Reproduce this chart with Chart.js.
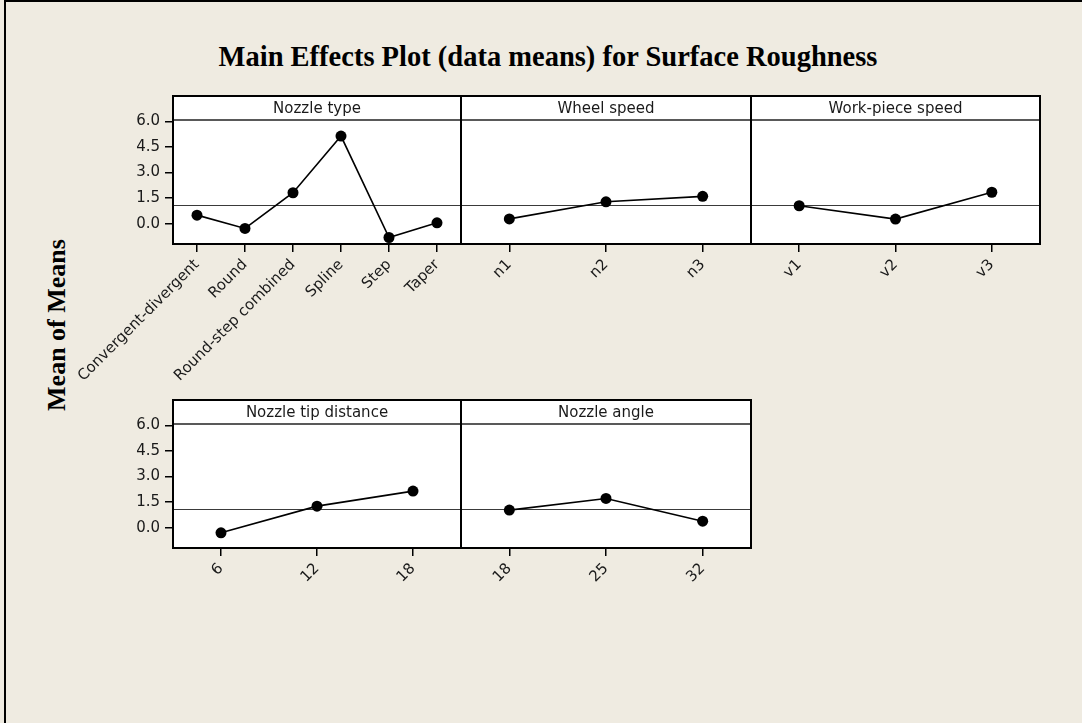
<!DOCTYPE html>
<html>
<head>
<meta charset="utf-8">
<script src="https://cdn.jsdelivr.net/npm/chart.js@4.4.1/dist/chart.umd.min.js"></script>
<style>
  html, body { margin: 0; padding: 0; background: #efebe1; }
  #page { position: relative; width: 1082px; height: 723px; overflow: hidden; background: #efebe1; }
  #frame { position: absolute; left: 4px; top: 0; width: 1100px; height: 760px;
           border-top: 2px solid #000; border-left: 2px solid #000; }
  #title { position: absolute; left: 48px; width: 1000px; top: 41px; text-align: center;
           font: bold 28.5px "Liberation Serif", serif; color: #000; white-space: nowrap; }
  #ylab { position: absolute; left: 57px; top: 325px; transform: translate(-50%, -50%) rotate(-90deg);
          white-space: nowrap; font: bold 26px "Liberation Serif", serif; color: #000; }
  canvas { position: absolute; }
</style>
</head>
<body>
<div id="page">
  <div id="frame"></div>
  <div id="title">Main Effects Plot (data means) for Surface Roughness</div>
  <div id="ylab">Mean of Means</div>
</div>
<script>
// Factor levels and their mean surface roughness
const nozzleTypes = ['Convergent-divergent', 'Round', 'Round-step combined', 'Spline', 'Step', 'Taper'];
const nozzleTypeMeans = [0.51, -0.27, 1.82, 5.14, -0.80, 0.06];

const wheelSpeeds = ['n1', 'n2', 'n3'];
const wheelSpeedMeans = [0.29, 1.29, 1.61];

const workSpeeds = ['v1', 'v2', 'v3'];
const workSpeedMeans = [1.06, 0.28, 1.85];

const tipDistances = ['6', '12', '18'];
const tipDistanceMeans = [-0.29, 1.27, 2.15];

const nozzleAngles = ['18', '25', '32'];
const nozzleAngleMeans = [1.04, 1.72, 0.39];

// Overall mean drawn as the reference line in every panel
const grandMean = 1.08;

// Shared y axis
const yTicks = [0, 1.5, 3, 4.5, 6];
const yMin = -1.18;
const yMax = 6.08;

const FONT = 'DejaVu Sans';
const HEADER_H = 24;
const PLOT_H = 124;
const XAXIS_H = 190;
const PAD = 2;

// Header box, frame and reference line for each panel
const panelPlugin = {
  id: 'panelFrame',
  beforeDraw(chart, args, opts) {
    const { ctx, chartArea: a } = chart;
    ctx.save();
    ctx.fillStyle = '#ffffff';
    ctx.fillRect(a.left, a.top - HEADER_H, a.right - a.left, a.bottom - a.top + HEADER_H);
    ctx.restore();
  },
  beforeDatasetsDraw(chart, args, opts) {
    const { ctx, chartArea: a, scales } = chart;
    const yy = Math.round(scales.y.getPixelForValue(opts.reference)) + 0.5;
    ctx.save();
    ctx.strokeStyle = '#3a3a3a';
    ctx.lineWidth = 1;
    ctx.beginPath();
    ctx.moveTo(a.left, yy);
    ctx.lineTo(a.right, yy);
    ctx.stroke();
    ctx.restore();
  },
  afterDraw(chart, args, opts) {
    const { ctx, chartArea: a } = chart;
    const top = a.top - HEADER_H;
    ctx.save();
    // header separator
    ctx.strokeStyle = '#222';
    ctx.lineWidth = 1.5;
    ctx.beginPath();
    ctx.moveTo(a.left, a.top);
    ctx.lineTo(a.right, a.top);
    ctx.stroke();
    // outer frame
    ctx.strokeStyle = '#000';
    ctx.lineWidth = 2;
    ctx.strokeRect(a.left, top, a.right - a.left, a.bottom - top);
    // header text
    ctx.fillStyle = '#1a1a1a';
    ctx.font = '15px "' + FONT + '"';
    ctx.textAlign = 'center';
    ctx.textBaseline = 'middle';
    ctx.fillText(opts.title, (a.left + a.right) / 2, top + HEADER_H / 2 + 1);
    ctx.restore();
  }
};

function makePanel(cfg) {
  const canvasLeft = cfg.showY ? 0 : cfg.left - PAD;
  const canvasTop = cfg.headerTop - PAD;
  const width = cfg.right + PAD - canvasLeft;
  const height = PAD + HEADER_H + PLOT_H + XAXIS_H;

  const canvas = document.createElement('canvas');
  canvas.width = width;
  canvas.height = height;
  canvas.style.left = canvasLeft + 'px';
  canvas.style.top = canvasTop + 'px';
  canvas.style.width = width + 'px';
  canvas.style.height = height + 'px';
  document.getElementById('page').appendChild(canvas);

  new Chart(canvas, {
    type: 'line',
    data: {
      labels: cfg.labels,
      datasets: [{
        data: cfg.values,
        borderColor: '#000',
        borderWidth: 1.6,
        pointRadius: 5.5,
        pointBackgroundColor: '#000',
        pointBorderColor: '#000',
        pointBorderWidth: 0,
        tension: 0,
        clip: false
      }]
    },
    options: {
      responsive: false,
      animation: false,
      devicePixelRatio: 1,
      layout: {
        autoPadding: false,
        padding: { top: PAD + HEADER_H, left: cfg.showY ? 0 : PAD, right: PAD, bottom: 0 }
      },
      plugins: {
        legend: { display: false },
        tooltip: { enabled: false },
        panelFrame: { title: cfg.title, reference: grandMean }
      },
      scales: {
        x: {
          type: 'category',
          offset: true,
          border: { display: false },
          grid: { display: true, drawOnChartArea: false, drawTicks: true, tickLength: 8, color: '#000', lineWidth: 1.5 },
          ticks: {
            autoSkip: false, minRotation: 45, maxRotation: 45, padding: 4,
            color: '#1a1a1a', font: { family: FONT, size: 15 }
          },
          afterFit(scale) { scale.height = XAXIS_H; }
        },
        y: {
          display: cfg.showY,
          min: yMin,
          max: yMax,
          border: { display: false },
          grid: { display: true, drawOnChartArea: false, drawTicks: true, tickLength: 8, color: '#000', lineWidth: 1.5 },
          ticks: {
            padding: 5, color: '#1a1a1a', font: { family: FONT, size: 15 },
            callback: (v) => Number(v).toFixed(1)
          },
          afterBuildTicks(scale) { scale.ticks = yTicks.map(v => ({ value: v })); },
          afterFit(scale) { if (cfg.showY) scale.width = cfg.left - canvasLeft; }
        }
      }
    },
    plugins: [panelPlugin]
  });
}

const topRow = 96;
const bottomRow = 400;

makePanel({ title: 'Nozzle type', labels: nozzleTypes, values: nozzleTypeMeans, left: 173, right: 461, headerTop: topRow, showY: true });
makePanel({ title: 'Wheel speed', labels: wheelSpeeds, values: wheelSpeedMeans, left: 461, right: 751, headerTop: topRow, showY: false });
makePanel({ title: 'Work-piece speed', labels: workSpeeds, values: workSpeedMeans, left: 751, right: 1040, headerTop: topRow, showY: false });
makePanel({ title: 'Nozzle tip distance', labels: tipDistances, values: tipDistanceMeans, left: 173, right: 461, headerTop: bottomRow, showY: true });
makePanel({ title: 'Nozzle angle', labels: nozzleAngles, values: nozzleAngleMeans, left: 461, right: 751, headerTop: bottomRow, showY: false });
</script>
</body>
</html>
